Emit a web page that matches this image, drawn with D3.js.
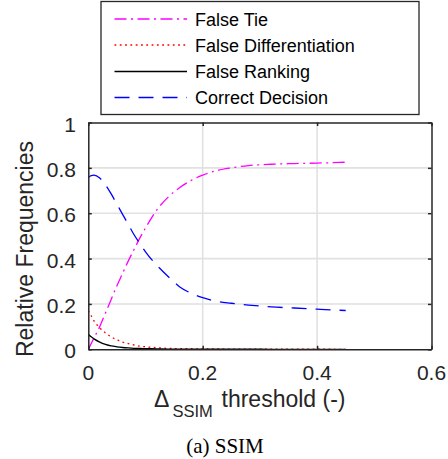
<!DOCTYPE html>
<html>
<head>
<meta charset="utf-8">
<script src="https://cdn.jsdelivr.net/npm/d3@7"></script>
<style>
  html, body { margin: 0; padding: 0; background: #fff; }
  svg { display: block; }
</style>
</head>
<body>
<svg id="chart" width="448" height="459"></svg>
<script>
// ---- data ----
const thresholds = [0, 0.005, 0.01, 0.02, 0.03, 0.04, 0.05, 0.06, 0.07, 0.08, 0.09, 0.10,
                    0.12, 0.14, 0.16, 0.18, 0.20, 0.22, 0.25, 0.28, 0.32, 0.36, 0.40, 0.45];
const falseTie = [0, 0.025, 0.05, 0.10, 0.16, 0.22, 0.28, 0.335, 0.39, 0.44, 0.49, 0.535,
                  0.615, 0.672, 0.713, 0.745, 0.768, 0.785, 0.800, 0.810, 0.816, 0.819, 0.821, 0.825];
const falseDiff = [0.17, 0.148, 0.125, 0.095, 0.072, 0.055, 0.042, 0.032, 0.025, 0.019, 0.014, 0.011,
                   0.007, 0.004, 0.003, 0.0025, 0.002, 0.0015, 0.001, 0.0008, 0.0005, 0.0003, 0.0002, 0];
const falseRank = [0.066, 0.055, 0.046, 0.032, 0.022, 0.015, 0.011, 0.008, 0.006, 0.0045, 0.0035, 0.003,
                   0.002, 0.001, 0.0008, 0.0006, 0.0005, 0.0004, 0.0003, 0.0002, 0.0001, 0, 0, 0];
const correct = [0.758, 0.766, 0.768, 0.755, 0.725, 0.685, 0.64, 0.595, 0.55, 0.505, 0.467, 0.43,
                 0.37, 0.32, 0.275, 0.247, 0.228, 0.214, 0.203, 0.195, 0.187, 0.182, 0.177, 0.171];
const seriesNames = ["False Tie", "False Differentiation", "False Ranking", "Correct Decision"];
const xTicks = [0, 0.2, 0.4, 0.6];
const yTicks = [0, 0.2, 0.4, 0.6, 0.8, 1];

// ---- layout ----
const svg = d3.select("#chart");
const L = 88.3, R = 431.5, T = 122.5, B = 349.3;
const x = d3.scaleLinear().domain([0, 0.6]).range([L, R]);
const y = d3.scaleLinear().domain([0, 1]).range([B, T]);
const axisColor = "#262626";
const font = "'Liberation Sans', Arial, Helvetica, sans-serif";

const series = [
  { name: seriesNames[0], values: falseTie,  color: "#ff00ff", dash: "12,4.5,2,4.5" },
  { name: seriesNames[1], values: falseDiff, color: "#ff0000", dash: "1.8,3.5" },
  { name: seriesNames[2], values: falseRank, color: "#000000", dash: null },
  { name: seriesNames[3], values: correct,   color: "#0000ff", dash: "15,9" }
];

// grid
const grid = svg.append("g");
grid.selectAll("line.gx").data(xTicks.slice(1, -1)).join("line")
  .attr("x1", d => x(d)).attr("x2", d => x(d)).attr("y1", T).attr("y2", B)
  .attr("stroke", "#e1e1e1").attr("stroke-width", 1.6);
grid.selectAll("line.gy").data(yTicks.slice(1, -1)).join("line")
  .attr("y1", d => y(d)).attr("y2", d => y(d)).attr("x1", L).attr("x2", R)
  .attr("stroke", "#e1e1e1").attr("stroke-width", 1.6);

// clip
svg.append("clipPath").attr("id", "clip").append("rect")
  .attr("x", L).attr("y", T).attr("width", R - L).attr("height", B - T);

// lines
const line = d3.line().x((d, i) => x(thresholds[i])).y(d => y(d)).curve(d3.curveMonotoneX);
const plot = svg.append("g").attr("clip-path", "url(#clip)");
series.forEach(s => {
  plot.append("path").datum(s.values)
    .attr("d", line)
    .attr("fill", "none")
    .attr("stroke", s.color)
    .attr("stroke-width", 1.3)
    .attr("stroke-dasharray", s.dash);
});

// axes box with inward ticks on all sides
const axG = svg.append("g").attr("color", axisColor);
const tickLen = 3.5;
const xAxisB = d3.axisBottom(x).tickValues(xTicks).tickSize(-tickLen).tickFormat("");
const xAxisT = d3.axisTop(x).tickValues(xTicks).tickSize(-tickLen).tickFormat("");
const yAxisL = d3.axisLeft(y).tickValues(yTicks).tickSize(-tickLen).tickFormat("");
const yAxisR = d3.axisRight(y).tickValues(yTicks).tickSize(-tickLen).tickFormat("");
[[xAxisB, `translate(0,${B})`], [xAxisT, `translate(0,${T})`],
 [yAxisL, `translate(${L},0)`], [yAxisR, `translate(${R},0)`]].forEach(([ax, tr]) => {
  const g = axG.append("g").attr("transform", tr).call(ax.tickSizeOuter(0));
  g.select(".domain").attr("stroke-width", 1.5);
  g.selectAll(".tick line").attr("stroke-width", 1.5);
});

// tick labels
svg.append("g").selectAll("text").data(xTicks).join("text")
  .attr("x", d => x(d)).attr("y", 379.5)
  .attr("text-anchor", "middle")
  .attr("font-family", font).attr("font-size", 21).attr("fill", axisColor)
  .text(d => d3.format("")(d));
svg.append("g").selectAll("text").data(yTicks).join("text")
  .attr("x", 76).attr("y", d => y(d) + 9)
  .attr("text-anchor", "end")
  .attr("font-family", font).attr("font-size", 21).attr("fill", axisColor)
  .text(d => d3.format("")(d));

// axis labels
const xl = svg.append("text")
  .attr("font-family", font).attr("fill", axisColor)
  .attr("y", 406.5);
xl.append("tspan").attr("x", 154).attr("font-size", 23).text("Δ");
xl.append("tspan").attr("x", 172.5).attr("dy", 10.5).attr("font-size", 16.5).text("SSIM");
xl.append("tspan").attr("x", 221.5).attr("dy", -10.5).attr("font-size", 23).text("threshold (-)");

svg.append("text")
  .attr("transform", `translate(32.5,249) rotate(-90)`)
  .attr("text-anchor", "middle")
  .attr("font-family", font).attr("font-size", 23).attr("fill", axisColor)
  .text("Relative Frequencies");

// caption
svg.append("text")
  .attr("x", 225).attr("y", 453)
  .attr("text-anchor", "middle")
  .attr("font-family", "'Liberation Serif', 'Times New Roman', serif")
  .attr("font-size", 21).attr("fill", "#000")
  .text("(a) SSIM");

// legend
const lg = svg.append("g");
lg.append("rect")
  .attr("x", 101).attr("y", 1.5).attr("width", 318).attr("height", 113)
  .attr("fill", "#fff").attr("stroke", axisColor).attr("stroke-width", 1.3);
const rowY = [19, 45, 71.5, 97.5];
series.forEach((s, i) => {
  lg.append("line")
    .attr("x1", 114.5).attr("x2", 187).attr("y1", rowY[i]).attr("y2", rowY[i])
    .attr("stroke", s.color).attr("stroke-width", 1.3)
    .attr("stroke-dasharray", s.dash);
  lg.append("text")
    .attr("x", 195).attr("y", rowY[i] + 6.5)
    .attr("font-family", font).attr("font-size", 18).attr("fill", "#000")
    .text(s.name);
});
</script>
</body>
</html>
